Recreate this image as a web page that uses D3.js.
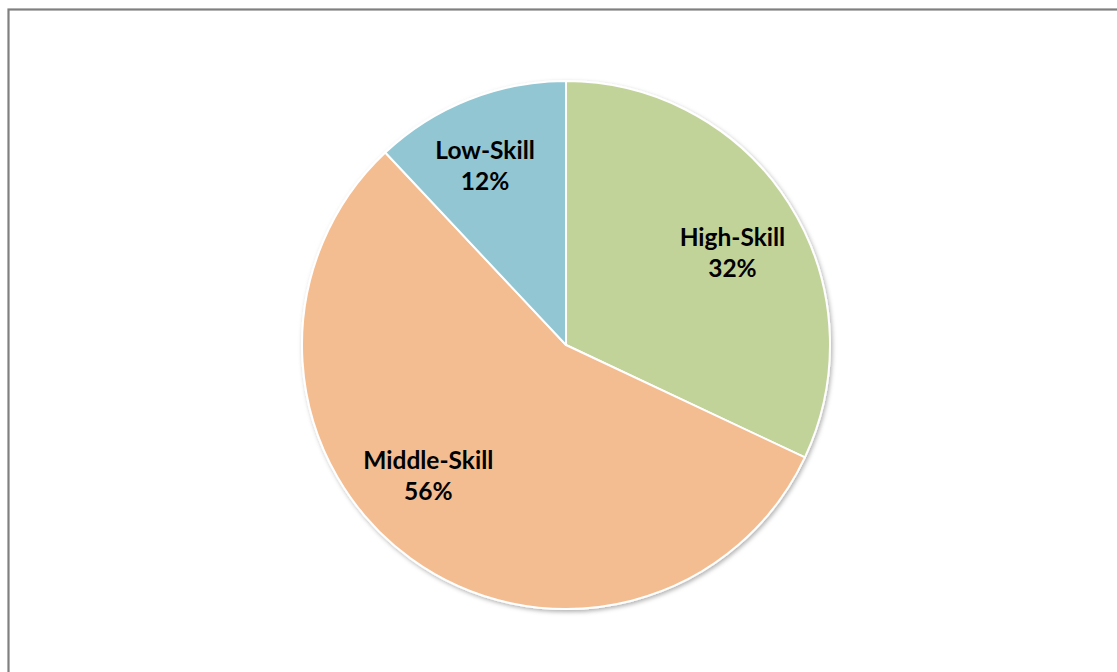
<!DOCTYPE html>
<html>
<head>
<meta charset="utf-8">
<script src="https://cdn.jsdelivr.net/npm/d3@7"></script>
<style>
  html, body { margin: 0; padding: 0; background: #fff; }
  svg { display: block; }
</style>
</head>
<body>
<svg id="chart" width="1117" height="672"></svg>
<script>
// Share of jobs by skill level
const categories = ["High-Skill", "Middle-Skill", "Low-Skill"];
const shares = [32, 56, 12];
const sliceColors = ["#c2d39a", "#f3bd91", "#92c6d3"];

// Layout
const W = 1117, H = 672;
const cx = 566, cy = 345, R = 264;
const labelRadius = 190;
// small per-slice label shifts (best-fit placement)
const labelNudge = {
  "High-Skill": [6, 10],
  "Middle-Skill": [-26, -23],
  "Low-Skill": [-11, -2]
};

const svg = d3.select("#chart");

// chart frame
svg.append("rect")
  .attr("x", 8.5).attr("y", 9.5)
  .attr("width", W + 50).attr("height", H + 50)
  .attr("fill", "#fff")
  .attr("stroke", "#808080")
  .attr("stroke-width", 2.2);

const defs = svg.append("defs");
const f = defs.append("filter").attr("id", "pieShadow")
  .attr("x", "-10%").attr("y", "-10%").attr("width", "120%").attr("height", "120%");
f.append("feDropShadow")
  .attr("dx", 1.5).attr("dy", 2)
  .attr("stdDeviation", 2)
  .attr("flood-color", "#000")
  .attr("flood-opacity", 0.3);

const data = categories.map((c, i) => ({ name: c, value: shares[i], color: sliceColors[i] }));

const pie = d3.pie().value(d => d.value).sort(null);
const arcs = pie(data);
const arc = d3.arc().innerRadius(0).outerRadius(R);
const labelArc = d3.arc().innerRadius(labelRadius).outerRadius(labelRadius);

const g = svg.append("g").attr("transform", `translate(${cx},${cy})`);

g.append("g").attr("filter", "url(#pieShadow)")
  .selectAll("path")
  .data(arcs)
  .join("path")
  .attr("d", arc)
  .attr("fill", d => d.data.color)
  .attr("stroke", "#fff")
  .attr("stroke-width", 2)
  .attr("stroke-linejoin", "round");

const labels = g.append("g")
  .selectAll("text")
  .data(arcs)
  .join("text")
  .attr("transform", d => {
    const [x, y] = labelArc.centroid(d);
    const n = labelNudge[d.data.name] || [0, 0];
    return `translate(${x + n[0]},${y + n[1]})`;
  })
  .attr("text-anchor", "middle")
  .style("font-family", "Lato, 'Open Sans', sans-serif")
  .style("font-weight", "bold")
  .style("font-size", "24.5px")
  .attr("fill", "#000");

labels.append("tspan").attr("x", 0).attr("y", -7).text(d => d.data.name);
labels.append("tspan").attr("x", 0).attr("y", 24).text(d => d.data.value + "%");
</script>
</body>
</html>
